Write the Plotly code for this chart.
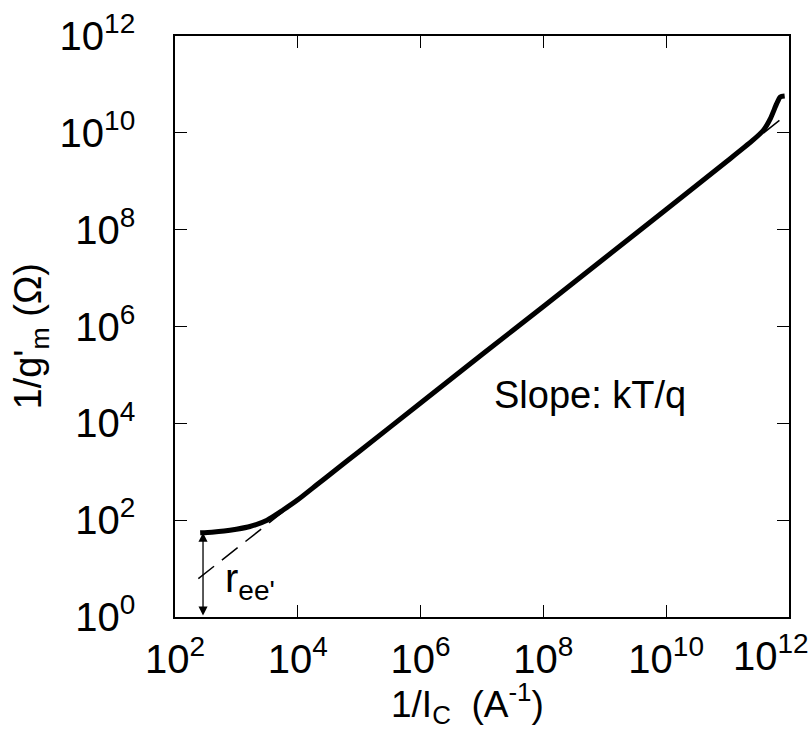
import numpy as np
import plotly.graph_objects as go

# measured curve: 1/Ic (A^-1) vs 1/g'm (Ohm)
inv_ic = [2.57e2, 3.98e2, 6.31e2, 1.0e3, 1.66e3, 3.16e3, 5.75e3, 1.0e4, 2.04e4,
          3.98e4, 1.0e5, 1.0e6, 1.0e7, 1.0e8, 1.0e9, 1.0e10, 1.0e11, 2.5e11,
          3.8e11, 5.0e11, 6.3e11, 7.2e11, 8.5e11]
inv_gm = [55, 56.5, 59.5, 65, 74, 100, 162, 263, 537,
          1.05e3, 2.63e3, 2.63e4, 2.63e5, 2.6e6, 2.6e7, 2.6e8, 2.65e9, 6.8e9,
          1.12e10, 2.0e10, 4.0e10, 5.5e10, 5.75e10]

# asymptote with slope kT/q (dashed)
asym_x = [2.4e2, 7.9e11]
asym_y = [6.2, 2.04e10]

# r_ee' arrow
arrow_x = 2.86e2
arrow_top = 55
arrow_bottom = 1

tick_exps = [0, 2, 4, 6, 8, 10, 12]
x_tick_exps = [2, 4, 6, 8, 10, 12]

FONT = "Liberation Sans, Arial, Helvetica, sans-serif"

fig = go.Figure()
fig.add_trace(go.Scatter(x=asym_x, y=asym_y, mode="lines",
                         line=dict(color="black", width=1.5, dash="20px,10px"),
                         showlegend=False, hoverinfo="skip"))
fig.add_trace(go.Scatter(x=inv_ic, y=inv_gm, mode="lines",
                         line=dict(color="black", width=5, shape="spline", smoothing=0.6),
                         showlegend=False))

fig.add_annotation(x=np.log10(arrow_x), y=np.log10(arrow_top),
                   ax=np.log10(arrow_x), ay=np.log10(arrow_bottom),
                   axref="x", ayref="y", xref="x", yref="y",
                   text="", showarrow=True, arrowside="end+start",
                   arrowhead=2, arrowsize=1.4, arrowwidth=1.3, arrowcolor="black")
fig.add_annotation(x=2.78, y=0.74, xref="x", yref="y", xanchor="left", yanchor="middle",
                   text="r<sub>ee'</sub>", showarrow=False,
                   font=dict(family=FONT, size=40, color="black"))
fig.add_annotation(x=8.76, y=4.59, xref="x", yref="y", xanchor="center", yanchor="middle",
                   text="Slope: kT/q", showarrow=False,
                   font=dict(family=FONT, size=38, color="black"))

# axis titles
fig.add_annotation(x=0.477, y=0, xref="paper", yref="paper", xanchor="center", yanchor="top",
                   yshift=-59, text="1/I<sub>C</sub>  (A<sup>-1</sup>)", showarrow=False,
                   font=dict(family=FONT, size=37, color="black"))
fig.add_annotation(x=-0.235, y=0.484, xref="paper", yref="paper", xanchor="center",
                   yanchor="middle", textangle=-90,
                   text="1/g'<sub>m</sub> (Ω)", showarrow=False,
                   font=dict(family=FONT, size=38, color="black"))

# last x tick label, pulled in from the right edge as in the original
fig.add_annotation(x=1, y=0, xref="paper", yref="paper", xanchor="right", yanchor="top",
                   xshift=22, yshift=-9, text=f"10<sup>{x_tick_exps[-1]}</sup>",
                   showarrow=False, font=dict(family=FONT, size=40, color="black"))

axis_common = dict(type="log", showgrid=False, zeroline=False, showline=True,
                   linecolor="black", linewidth=1.5, mirror="ticks",
                   ticks="inside", ticklen=12, tickwidth=1.3, tickcolor="black",
                   ticklabeloverflow="allow", automargin=False,
                   tickfont=dict(family=FONT, size=40, color="black"))

fig.update_xaxes(range=[2, 12], tickvals=[10.0 ** e for e in x_tick_exps],
                 ticktext=[f"10<sup>{e}</sup>" for e in x_tick_exps[:-1]] + [""],
                 ticklabelstandoff=6, **axis_common)
fig.update_yaxes(range=[0, 12], tickvals=[10.0 ** e for e in tick_exps],
                 ticktext=[f"10<sup>{e}</sup>" for e in tick_exps],
                 ticklabelstandoff=30, **axis_common)

fig.update_layout(width=812, height=732, autosize=False,
                  margin=dict(l=175, r=23, t=36, b=115, autoexpand=False),
                  paper_bgcolor="white", plot_bgcolor="white",
                  font=dict(family=FONT, color="black"))

fig.write_html("out.html")
